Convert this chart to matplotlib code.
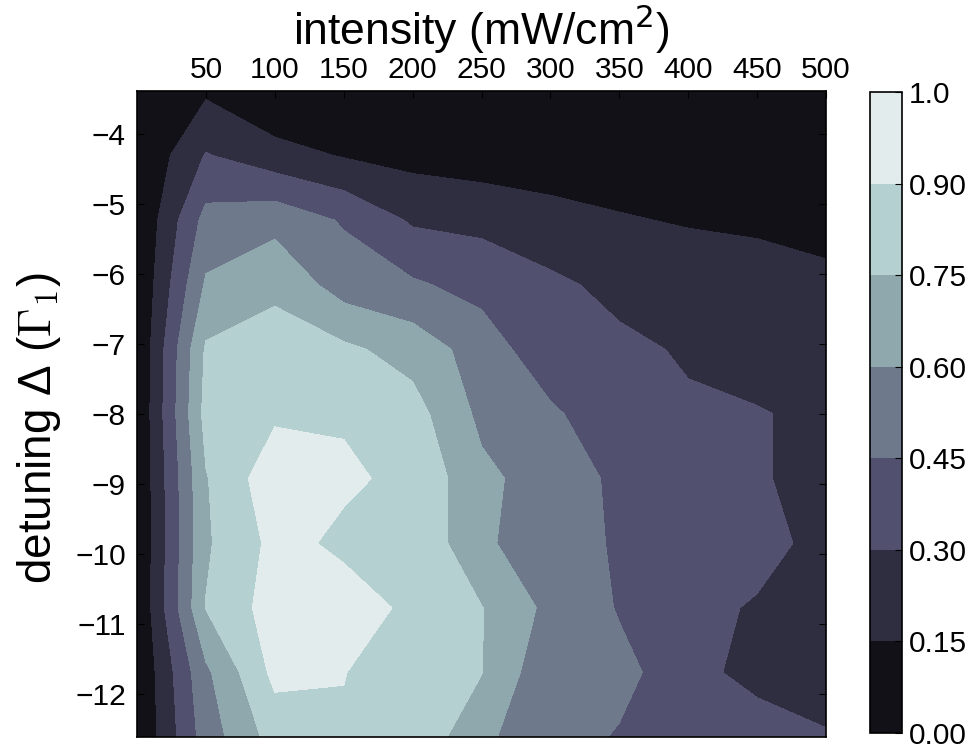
import numpy as np
import matplotlib
matplotlib.use("Agg")
import matplotlib.pyplot as plt

plt.rcParams['font.family'] = ['Liberation Sans', 'DejaVu Sans']
plt.rcParams['mathtext.fontset'] = 'dejavusans'

# intensity grid (mW/cm^2) and detuning grid (units of Gamma_1)
intensity = [0, 50, 100, 150, 200, 250, 300, 350, 400, 450, 500]
detuning = [-3.385, -4.308, -5.231, -6.154, -7.077, -8.0,
            -8.923, -9.846, -10.769, -11.692, -12.615]

# normalised signal, one row per detuning value
signal = [
    [0.00, 0.125, 0.00, 0.02, 0.02, 0.02, 0.02, 0.02, 0.02, 0.02, 0.02],
    [0.00, 0.31, 0.21, 0.14, 0.10, 0.07, 0.07, 0.08, 0.05, 0.05, 0.04],
    [0.00, 0.50, 0.55, 0.435, 0.28, 0.26, 0.20, 0.16, 0.14, 0.13, 0.12],
    [0.00, 0.62, 0.72, 0.53, 0.47, 0.40, 0.33, 0.26, 0.22, 0.20, 0.17],
    [0.00, 0.77, 0.81, 0.78, 0.69, 0.53, 0.35, 0.33, 0.285, 0.20, 0.20],
    [0.00, 0.80, 0.875, 0.887, 0.81, 0.565, 0.475, 0.35, 0.318, 0.315, 0.25],
    [0.00, 0.74, 1.00, 0.92, 0.87, 0.635, 0.53, 0.42, 0.37, 0.32, 0.23],
    [0.00, 0.73, 0.94, 0.875, 0.885, 0.62, 0.53, 0.43, 0.38, 0.37, 0.235],
    [0.00, 0.755, 0.97, 0.956, 0.876, 0.755, 0.56, 0.44, 0.36, 0.28, 0.20],
    [0.00, 0.57, 0.94, 0.905, 0.80, 0.755, 0.48, 0.485, 0.38, 0.22, 0.24],
    [0.00, 0.52, 0.81, 0.88, 0.87, 0.63, 0.50, 0.44, 0.40, 0.425, 0.31],
]

levels = [0.0, 0.15, 0.30, 0.45, 0.60, 0.75, 0.90, 1.0]
level_labels = ['0.00', '0.15', '0.30', '0.45', '0.60', '0.75', '0.90', '1.0']
xticks = [50, 100, 150, 200, 250, 300, 350, 400, 450, 500]

# band colours (bone-like, as in the original)
band_colors = ['#111117', '#2e2e40', '#51516f', '#6e7a8b',
               '#8fa8ad', '#b5d0d0', '#e3eced']

X, Y = np.meshgrid(intensity, detuning)
Z = np.array(signal)

fig = plt.figure(figsize=(9.8, 7.5), dpi=100)
ax = fig.add_axes([137 / 980, 13 / 750, 689 / 980, 646 / 750])
cax = fig.add_axes([870 / 980, 17 / 750, 32 / 980, 641 / 750])

cf = ax.contourf(X, Y, Z, levels=levels, colors=band_colors)

ax.xaxis.tick_top()
ax.xaxis.set_label_position('top')
ax.set_xticks(xticks)
ax.set_yticks(range(-12, -3))
ax.tick_params(axis='both', direction='in', length=5, labelsize=21.5)
ax.tick_params(axis='y', right=True, pad=8)
ax.tick_params(axis='x', pad=5)
ax.set_xlabel('intensity (mW/cm$^2$)', fontsize=32, labelpad=8)
ax.set_ylabel(r'detuning Δ ($\Gamma_1$)', fontsize=33,
              math_fontfamily='cm')
ax.yaxis.set_label_coords(-0.108, 0.478)
for s in ax.spines.values():
    s.set_linewidth(1.2)

cb = fig.colorbar(cf, cax=cax, ticks=levels)
cb.ax.set_yticklabels(level_labels)
cb.ax.tick_params(direction='in', length=5, labelsize=21.5, pad=5)
cb.outline.set_linewidth(1.2)

fig.savefig('out.png', dpi=100)
